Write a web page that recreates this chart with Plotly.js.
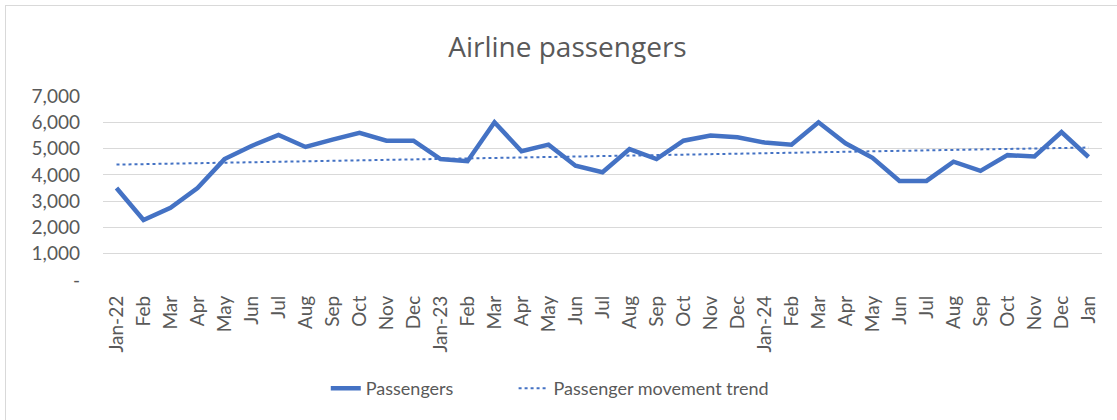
<!DOCTYPE html>
<html>
<head>
<meta charset="utf-8">
<script src="https://cdn.plot.ly/plotly-3.0.1.min.js"></script>
<style>
  html, body { margin: 0; padding: 0; background: #fff; }
  #wrap { position: relative; width: 1117px; height: 420px; overflow: hidden; }
  #chart { position: absolute; left: 0; top: 0; width: 1117px; height: 420px; }
  #frame { position: absolute; left: 5px; top: 5px; width: 1130px; height: 430px; border: 1px solid #d9d9d9; pointer-events: none; }
</style>
</head>
<body>
<div id="wrap"><div id="chart"></div><div id="frame"></div></div>
<script>
const monthKeys = ["Jan-22","Feb-22","Mar-22","Apr-22","May-22","Jun-22","Jul-22","Aug-22","Sep-22","Oct-22","Nov-22","Dec-22",
  "Jan-23","Feb-23","Mar-23","Apr-23","May-23","Jun-23","Jul-23","Aug-23","Sep-23","Oct-23","Nov-23","Dec-23",
  "Jan-24","Feb-24","Mar-24","Apr-24","May-24","Jun-24","Jul-24","Aug-24","Sep-24","Oct-24","Nov-24","Dec-24","Jan-25"];
const tickLabels = ["Jan-22","Feb","Mar","Apr","May","Jun","Jul","Aug","Sep","Oct","Nov","Dec",
  "Jan-23","Feb","Mar","Apr","May","Jun","Jul","Aug","Sep","Oct","Nov","Dec",
  "Jan-24","Feb","Mar","Apr","May","Jun","Jul","Aug","Sep","Oct","Nov","Dec","Jan"];
const passengers = [3500,2280,2750,3500,4600,5100,5520,5060,5340,5600,5300,5300,
  4600,4520,6000,4900,5150,4350,4100,4980,4600,5300,5500,5430,
  5230,5150,6000,5200,4650,3770,3770,4500,4150,4750,4700,5630,4680];
const trendKeys = ["Jan-22","Jan-25"];
const trendValues = [4390,5040];
const yTickVals = [0,1000,2000,3000,4000,5000,6000,7000];
const yTickText = ["-","1,000","2,000","3,000","4,000","5,000","6,000","7,000"];

const blue = "#4472C4";
const grey = "#595959";
const font = "Lato, 'Open Sans', sans-serif";

const traces = [
  { x: monthKeys, y: passengers, type: "scatter", mode: "lines", name: "Passengers",
    line: { color: blue, width: 4.5, shape: "linear" }, legend: "legend" },
  { x: trendKeys, y: trendValues, type: "scatter", mode: "lines", name: "Passenger movement trend",
    line: { color: blue, width: 2, dash: "dot" }, legend: "legend2" }
];

const legendBase = { orientation: "h", yanchor: "middle", y: -0.59, xanchor: "left",
  font: { size: 18, color: grey, family: font }, bgcolor: "rgba(0,0,0,0)" };

const layout = {
  width: 1117, height: 420,
  margin: { l: 103, r: 15, t: 96, b: 140 },
  paper_bgcolor: "rgba(0,0,0,0)", plot_bgcolor: "#fff",
  font: { family: font, color: grey, size: 16 },
  title: { text: "Airline passengers", x: 0.508, xanchor: "center", y: 0.887, yanchor: "middle",
    font: { family: "'Open Sans', sans-serif", size: 28, color: grey } },
  xaxis: { type: "category", categoryorder: "array", categoryarray: monthKeys,
    tickvals: monthKeys, ticktext: tickLabels, tickangle: -90,
    range: [-0.5, monthKeys.length - 0.5],
    showgrid: false, zeroline: false, showline: false, ticks: "",
    ticklabelstandoff: 11, tickfont: { size: 19, color: grey, family: font } },
  yaxis: { range: [0, 7000], tickvals: yTickVals, ticktext: yTickText,
    showgrid: true, gridcolor: "#d9d9d9", gridwidth: 1, zeroline: false, showline: false,
    ticks: "", ticklabelstandoff: 22, tickfont: { size: 19, color: grey, family: font } },
  showlegend: true,
  legend: Object.assign({}, legendBase, { x: 0.223 }),
  legend2: Object.assign({}, legendBase, { x: 0.411 })
};

Plotly.newPlot("chart", traces, layout, { displayModeBar: false, staticPlot: true });
</script>
</body>
</html>
